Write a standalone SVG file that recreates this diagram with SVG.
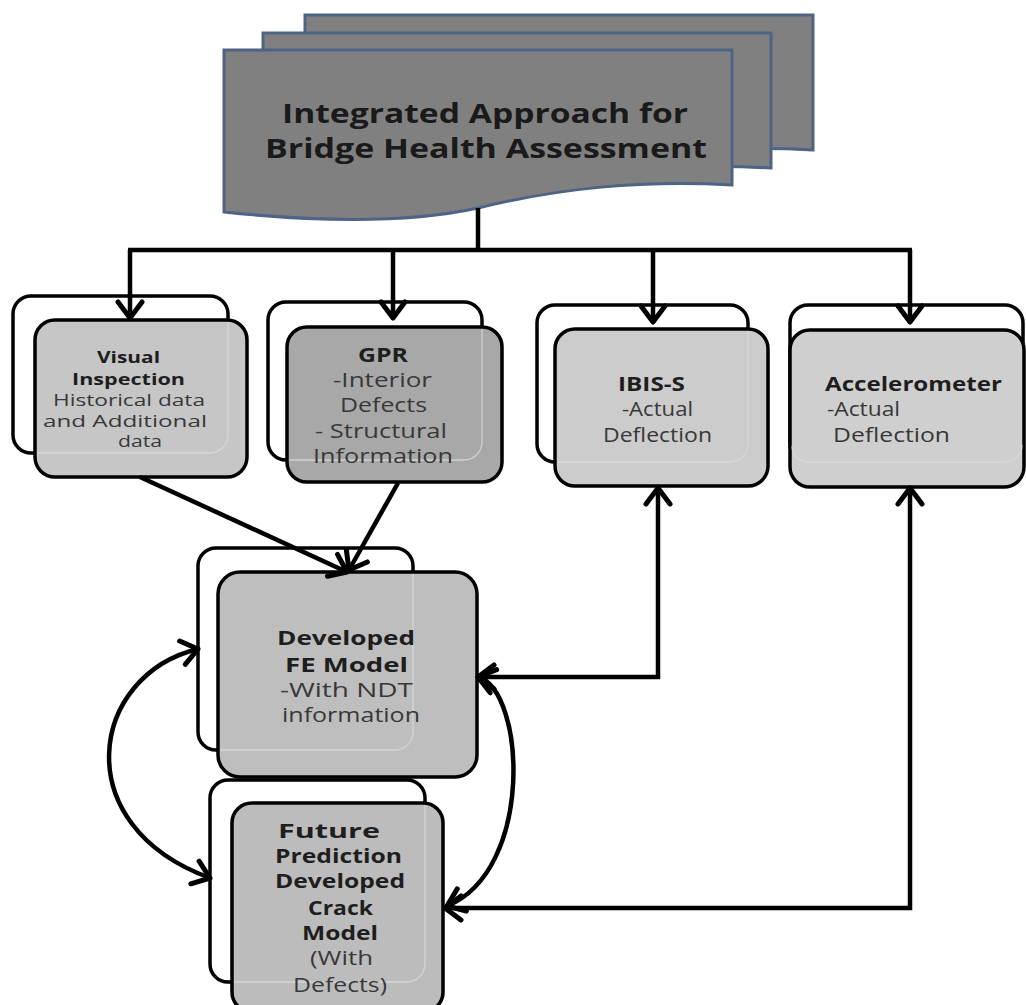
<svg xmlns="http://www.w3.org/2000/svg" width="1026" height="1005" viewBox="0 0 1026 1005">
<style>
.doc{fill:#808080;stroke:#4d6485;stroke-width:3}
.back{fill:#fff;stroke:#000;stroke-width:3.5}
.front{stroke:#000;stroke-width:3.5}
.ghost{fill:none;stroke:#dcdcdc;stroke-width:1.3;opacity:0.75}
.conn{fill:none;stroke:#000;stroke-width:4.5;stroke-linejoin:miter}
.arr{marker-end:url(#ah)}
.both{marker-start:url(#ah);marker-end:url(#ah)}
.t{font-family:"Open Sans","Liberation Sans",sans-serif;text-anchor:middle}
.b{font-weight:700;fill:#1e1e1e}
.r{font-weight:400;fill:#383838}
.ttl{font-family:"Open Sans","Liberation Sans",sans-serif;font-weight:700;font-size:26px;fill:#1a1a1a;text-anchor:middle}
</style>
<defs>
<path id="docShape" d="M224,50 H732 V185 C640,180 560,188 478,208 C400,225 300,220 224,212 Z"/>
<marker id="ah" markerUnits="userSpaceOnUse" viewBox="-22 -18 26 36" markerWidth="26" markerHeight="36" refX="0" refY="0" orient="auto-start-reverse">
<path d="M-16,-12 L0,0 L-16,12" fill="none" stroke="#000" stroke-width="5" stroke-linejoin="round" stroke-linecap="round"/>
</marker>
</defs>
<rect width="1026" height="1005" fill="#fff"/>

<g id="title">
<use href="#docShape" class="doc" transform="translate(81,-35)"/>
<use href="#docShape" class="doc" transform="translate(39,-17)"/>
<use href="#docShape" class="doc"/>
<text class="ttl" x="485" y="123" textLength="406" lengthAdjust="spacingAndGlyphs">Integrated Approach for</text>
<text class="ttl" x="486" y="158" textLength="442" lengthAdjust="spacingAndGlyphs">Bridge Health Assessment</text>
</g>

<g id="visual">
<rect class="back" x="13" y="296" width="215" height="157" rx="18"/>
<rect class="front" x="35" y="320" width="212" height="157" rx="20" fill="#c6c6c6"/>
<path class="ghost" d="M228,322 V435 A18,18 0 0 1 210,453 H37"/>
<g class="t" font-size="16">
<text class="b" x="128.5" y="363" textLength="63" lengthAdjust="spacingAndGlyphs">Visual</text>
<text class="b" x="128.5" y="385" textLength="113" lengthAdjust="spacingAndGlyphs">Inspection</text>
<text class="r" x="129" y="406" textLength="152" lengthAdjust="spacingAndGlyphs">Historical data</text>
<text class="r" x="125" y="427" textLength="164" lengthAdjust="spacingAndGlyphs">and Additional</text>
<text class="r" x="140" y="447" textLength="44" lengthAdjust="spacingAndGlyphs">data</text>
</g>
</g>

<g id="gpr">
<rect class="back" x="268" y="302" width="214" height="158" rx="18"/>
<rect class="front" x="287" y="327" width="215" height="155" rx="20" fill="#a8a8a8"/>
<path class="ghost" d="M482,329 V442 A18,18 0 0 1 464,460 H289"/>
<g class="t" font-size="20">
<text class="b" x="383" y="362" textLength="50" lengthAdjust="spacingAndGlyphs">GPR</text>
<text class="r" x="382.5" y="387" textLength="99" lengthAdjust="spacingAndGlyphs">-Interior</text>
<text class="r" x="383.5" y="412" textLength="87" lengthAdjust="spacingAndGlyphs">Defects</text>
<text class="r" x="381" y="438" textLength="132" lengthAdjust="spacingAndGlyphs">- Structural</text>
<text class="r" x="383" y="463" textLength="140" lengthAdjust="spacingAndGlyphs">Information</text>
</g>
</g>

<g id="ibis">
<rect class="back" x="537" y="305" width="211" height="157" rx="18"/>
<rect class="front" x="555" y="329" width="213" height="157" rx="20" fill="#cccccc"/>
<path class="ghost" d="M748,331 V444 A18,18 0 0 1 730,462 H557"/>
<g class="t" font-size="20">
<text class="b" x="651.5" y="391" textLength="67" lengthAdjust="spacingAndGlyphs">IBIS-S</text>
<text class="r" x="657.5" y="416" textLength="71" lengthAdjust="spacingAndGlyphs">-Actual</text>
<text class="r" x="657.5" y="442" textLength="109" lengthAdjust="spacingAndGlyphs">Deflection</text>
</g>
</g>

<g id="accel">
<rect class="back" x="790" y="305" width="233" height="157" rx="18"/>
<rect class="front" x="790" y="330" width="234" height="157" rx="20" fill="#cfcfcf"/>
<path class="ghost" d="M792,446 A16,16 0 0 0 808,462 H1005 A17,17 0 0 0 1022,445"/>
<g class="t" font-size="20">
<text class="b" x="825" y="391" textLength="177" lengthAdjust="spacingAndGlyphs" text-anchor="start">Accelerometer</text>
<text class="r" x="827" y="416" textLength="73" lengthAdjust="spacingAndGlyphs" text-anchor="start">-Actual</text>
<text class="r" x="833" y="442" textLength="117" lengthAdjust="spacingAndGlyphs" text-anchor="start">Deflection</text>
</g>
</g>

<g id="fe-model">
<rect class="back" x="198" y="548" width="215" height="202" rx="18"/>
<rect class="front" x="218" y="572" width="259" height="205" rx="22" fill="#bebebe"/>
<path class="ghost" d="M413,574 V732 A18,18 0 0 1 395,750 H220"/>
<g class="t" font-size="20">
<text class="b" x="346" y="645" textLength="138" lengthAdjust="spacingAndGlyphs">Developed</text>
<text class="b" x="346.5" y="672" textLength="123" lengthAdjust="spacingAndGlyphs">FE Model</text>
<text class="r" x="346.5" y="697" textLength="133" lengthAdjust="spacingAndGlyphs">-With NDT</text>
<text class="r" x="351" y="722" textLength="138" lengthAdjust="spacingAndGlyphs">information</text>
</g>
</g>

<g id="future">
<rect class="back" x="210" y="780" width="215" height="202" rx="18"/>
<rect class="front" x="232" y="803" width="211" height="209" rx="20" fill="#bcbcbc"/>
<path class="ghost" d="M425,805 V964 A18,18 0 0 1 407,982 H234"/>
<g class="t" font-size="20">
<text class="b" x="329" y="838" textLength="102" lengthAdjust="spacingAndGlyphs">Future</text>
<text class="b" x="338.5" y="863" textLength="127" lengthAdjust="spacingAndGlyphs">Prediction</text>
<text class="b" x="340" y="888" textLength="130" lengthAdjust="spacingAndGlyphs">Developed</text>
<text class="b" x="340.5" y="915" textLength="65" lengthAdjust="spacingAndGlyphs">Crack</text>
<text class="b" x="340" y="940" textLength="76" lengthAdjust="spacingAndGlyphs">Model</text>
<text class="r" x="341.5" y="965" textLength="63" lengthAdjust="spacingAndGlyphs">(With</text>
<text class="r" x="340" y="992" textLength="94" lengthAdjust="spacingAndGlyphs">Defects)</text>
</g>
</g>

<g id="connectors">
<path class="conn" d="M478,208 V250"/>
<path class="conn" d="M128,250 H912"/>
<path class="conn arr" d="M130,250 V318"/>
<path class="conn arr" d="M393,250 V318"/>
<path class="conn arr" d="M653,250 V322"/>
<path class="conn arr" d="M910,250 V322"/>
<path class="conn arr" d="M140,477 L347,572"/>
<path class="conn arr" d="M398,483 L349,570"/>
<path class="conn both" d="M658,488 V677 H478"/>
<path class="conn both" d="M910,488 V908 H445"/>
<path class="conn both" d="M198,649 C90,675 65,825 210,878"/>
<path class="conn both" d="M478,677 C525,690 535,870 447,906"/>
</g>
</svg>
